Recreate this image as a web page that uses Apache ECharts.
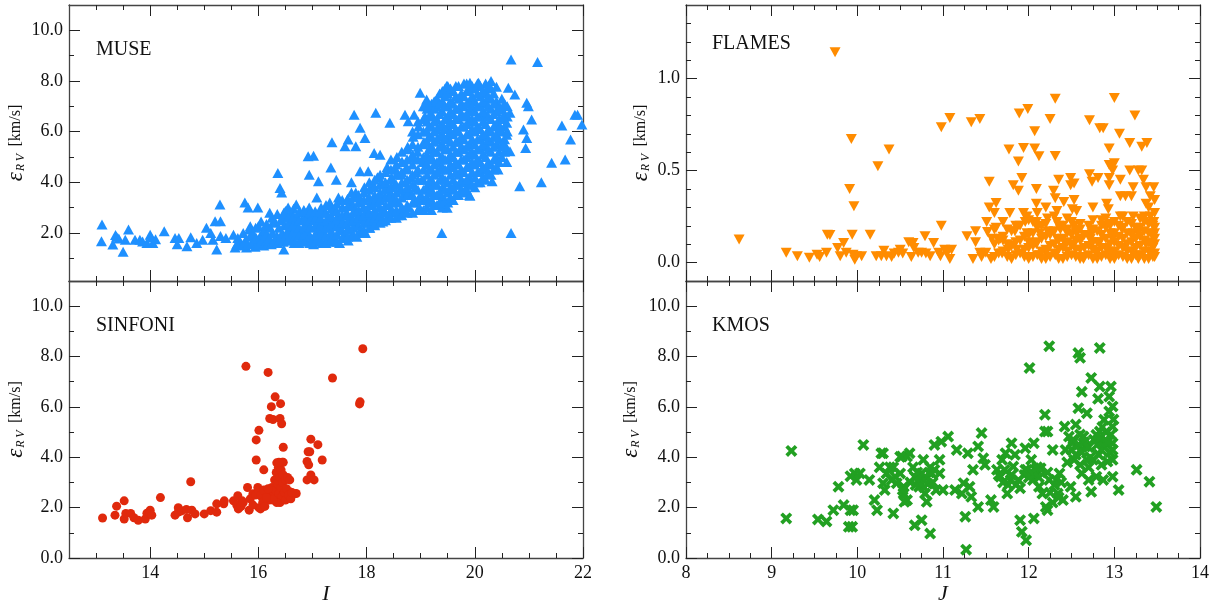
<!DOCTYPE html>
<html><head><meta charset="utf-8">
<script src="https://cdn.jsdelivr.net/npm/echarts@6/dist/echarts.min.js"></script>
<style>html,body{margin:0;padding:0;background:#fff}#c{width:1221px;height:603px}</style>
</head><body><div id="c"></div>
<script>
// ---------------- data ----------------
const panelNames = ['MUSE', 'FLAMES', 'SINFONI', 'KMOS'];
const xMajorI = [14, 16, 18, 20, 22];
const xMinorI = [13, 13.5, 14.5, 15, 15.5, 16.5, 17, 17.5, 18.5, 19, 19.5, 20.5, 21, 21.5];
const xMajorJ = [8, 9, 10, 11, 12, 13, 14];
const xMinorJ = [8.25, 8.5, 8.75, 9.25, 9.5, 9.75, 10.25, 10.5, 10.75, 11.25, 11.5, 11.75, 12.25, 12.5, 12.75, 13.25, 13.5, 13.75];
const yMajorMuse = [2, 4, 6, 8, 10];
const yMajorLow = [0, 2, 4, 6, 8, 10];
const yMinorKms = [1, 3, 5, 7, 9];
const yMajorFlames = [0, 0.5, 1.0];
const yMinorFlames = [0.1, 0.2, 0.3, 0.4, 0.6, 0.7, 0.8, 0.9, 1.1, 1.2, 1.3];

const museData = [
[13.11,2.33],[13.10,1.67],[13.31,1.54],[13.38,1.85],[13.42,1.78],[13.36,1.92],[13.50,1.26],[13.54,1.73],[13.60,2.13],[13.72,1.73],[13.81,1.73],[13.86,1.66],[13.94,1.60],[14.00,1.93],[14.05,1.60],[14.10,1.75],[14.02,1.82],[14.26,2.06],[14.46,1.80],[14.53,1.80],[14.50,1.55],[14.68,1.47],[14.75,1.83],[14.86,1.60],[14.97,1.73],[15.04,2.20],[15.12,2.00],[15.16,1.73],[15.20,2.46],[15.30,2.46],[15.29,3.12],[15.23,1.34],[15.30,1.88],[15.40,1.80],[15.54,1.93],[15.57,1.42],[15.66,1.67],[15.75,3.20],[15.81,3.00],[15.78,1.42],[15.85,2.26],[15.83,2.13],[15.91,1.73],[15.99,3.00],[16.00,2.26],[16.02,1.60],[16.08,2.00],[16.15,1.73],[16.21,2.80],[16.28,2.46],[16.36,4.37],[16.40,3.77],[16.43,3.60],[16.47,2.80],[16.47,1.34],[16.50,2.86],[16.60,2.80],[16.70,3.12],
[15.60,1.55],[15.62,1.80],[15.70,1.50],[15.72,2.00],[15.76,1.70],[15.80,1.55],[15.84,1.85],[15.88,1.60],[15.90,2.00],[15.94,1.45],[15.96,1.80],[16.00,1.55],[16.04,1.90],[16.06,1.70],[16.10,1.50],[16.12,2.10],[16.14,1.90],[16.18,1.60],[16.20,1.80],[16.22,2.20],[16.24,1.55],[16.26,2.00],[16.30,1.70],[16.32,2.40],[16.34,1.90],[16.36,1.60],[16.38,2.20],[16.40,1.75],[16.42,2.50],[16.44,2.00],[16.46,1.65],[16.48,2.30],[16.50,1.90],[16.52,2.60],[16.54,1.70],[16.56,2.15],[16.58,2.45],[16.60,1.85],[16.62,2.70],[16.64,2.05],[16.66,1.60],[16.68,2.35],[16.70,2.60],[16.72,1.90],[16.74,2.20],[16.76,2.85],[16.78,1.75],[16.80,2.50],[16.82,2.10],[16.84,2.90],[16.86,1.80],[16.88,2.40],[16.90,2.70],[16.92,2.00],[16.94,3.00],[16.96,2.25],[16.98,1.70],[17.00,2.55],[16.35,2.75],[16.45,2.65],[16.25,2.60],[16.15,2.35],[16.05,2.45],[15.95,2.20],[16.55,3.00],[16.65,2.95],
[17.02,1.55],[17.05,1.90],[17.06,2.30],[17.08,2.70],[17.10,1.70],[17.12,2.10],[17.14,2.50],[17.16,3.00],[17.18,1.60],[17.20,1.95],[17.22,2.35],[17.24,2.80],[17.26,1.75],[17.28,2.20],[17.30,2.60],[17.32,3.20],[17.34,1.65],[17.36,2.00],[17.38,2.45],[17.40,2.90],[17.42,1.80],[17.44,2.30],[17.46,2.65],[17.48,3.40],[17.50,1.60],[17.52,2.10],[17.54,2.50],[17.56,3.00],[17.58,1.90],[17.60,2.35],[17.62,2.75],[17.64,3.30],[17.66,1.70],[17.68,2.15],[17.70,2.60],[17.72,3.10],[17.74,2.00],[17.76,2.45],[17.78,2.90],[17.80,3.60],[17.82,1.85],[17.84,2.30],[17.86,2.75],[17.88,3.30],[17.90,2.10],[17.92,2.55],[17.94,3.00],[17.96,3.80],[17.98,2.00],[18.00,2.40],[18.02,2.85],[18.04,3.40],[18.06,2.20],[18.08,2.70],[18.10,3.15],[18.12,3.90],[18.14,2.35],[18.16,2.80],[18.18,3.30],[18.20,4.20],[18.22,2.50],[18.24,3.00],[18.26,3.50],[18.28,4.00],[18.30,2.45],[18.32,2.90],[18.34,3.40],[18.36,3.80],[18.38,4.60],[18.40,2.60],[18.42,3.10],[18.44,3.60],[18.46,4.20],[18.48,2.80],[18.50,3.30],[18.52,3.90],[18.54,4.50],[18.56,5.00],[18.58,2.70],[18.60,3.20],[18.62,3.70],[18.64,4.30],[18.66,4.80],[18.68,2.90],[18.70,3.50],[18.72,4.00],[18.74,4.60],[18.76,5.40],[18.78,3.00],[18.80,3.60],[18.82,4.20],[18.84,5.00],[18.86,5.80],[18.88,3.20],[18.90,3.80],[18.92,4.40],[18.94,5.20],[18.96,6.20],[18.98,3.00],[19.00,3.50],[19.02,4.10],[19.04,4.80],[19.06,5.60],[19.08,6.60],[19.10,7.00],
[16.55,1.70],[16.55,2.00],[16.55,2.30],[16.55,2.60],[16.65,1.75],[16.65,2.05],[16.65,2.35],[16.65,2.65],[16.75,1.60],[16.75,1.90],[16.75,2.20],[16.75,2.50],[16.75,2.80],[16.85,1.65],[16.85,1.95],[16.85,2.25],[16.85,2.55],[16.85,2.85],[16.95,1.60],[16.95,1.90],[16.95,2.20],[16.95,2.50],[16.95,2.80],
[17.05,1.65],[17.05,1.95],[17.05,2.25],[17.05,2.55],[17.05,2.85],[17.15,1.70],[17.15,2.00],[17.15,2.30],[17.15,2.60],[17.15,2.90],[17.25,1.60],[17.25,1.90],[17.25,2.20],[17.25,2.50],[17.25,2.80],[17.25,3.10],[17.35,1.75],[17.35,2.05],[17.35,2.35],[17.35,2.65],[17.35,2.95],[17.45,1.65],[17.45,1.95],[17.45,2.25],[17.45,2.55],[17.45,2.85],[17.45,3.15],
[17.55,1.80],[17.55,2.10],[17.55,2.40],[17.55,2.70],[17.55,3.00],[17.55,3.30],[17.65,1.85],[17.65,2.15],[17.65,2.45],[17.65,2.75],[17.65,3.05],[17.65,3.35],[17.75,1.90],[17.75,2.20],[17.75,2.50],[17.75,2.80],[17.75,3.10],[17.75,3.40],[17.85,2.00],[17.85,2.30],[17.85,2.60],[17.85,2.90],[17.85,3.20],[17.85,3.50],[17.95,2.10],[17.95,2.40],[17.95,2.70],[17.95,3.00],[17.95,3.30],[17.95,3.60],
[18.05,2.20],[18.05,2.50],[18.05,2.80],[18.05,3.10],[18.05,3.40],[18.05,3.70],[18.05,4.00],[18.15,2.30],[18.15,2.60],[18.15,2.90],[18.15,3.20],[18.15,3.50],[18.15,3.80],[18.15,4.10],[18.25,2.40],[18.25,2.70],[18.25,3.00],[18.25,3.30],[18.25,3.60],[18.25,3.90],[18.25,4.30],[18.35,2.50],[18.35,2.80],[18.35,3.10],[18.35,3.40],[18.35,3.70],[18.35,4.00],[18.35,4.40],
[18.45,2.60],[18.45,2.90],[18.45,3.20],[18.45,3.50],[18.45,3.80],[18.45,4.10],[18.45,4.50],[18.45,4.90],[18.55,2.60],[18.55,2.90],[18.55,3.30],[18.55,3.60],[18.55,3.90],[18.55,4.30],[18.55,4.70],[18.65,2.70],[18.65,3.00],[18.65,3.40],[18.65,3.70],[18.65,4.00],[18.65,4.40],[18.65,4.80],[18.65,5.20],[18.75,2.80],[18.75,3.10],[18.75,3.50],[18.75,3.80],[18.75,4.10],[18.75,4.50],[18.75,4.90],[18.75,5.30],
[18.85,2.80],[18.85,3.20],[18.85,3.50],[18.85,3.90],[18.85,4.30],[18.85,4.70],[18.85,5.10],[18.85,5.50],[18.85,6.00],[18.95,2.90],[18.95,3.30],[18.95,3.70],[18.95,4.10],[18.95,4.50],[18.95,4.90],[18.95,5.40],[18.95,5.90],[18.95,6.40],[19.05,2.90],[19.05,3.30],[19.05,3.70],[19.05,4.10],[19.05,4.50],[19.05,5.00],[19.05,5.50],[19.05,6.00],[19.05,6.50],[19.05,7.00],
[19.12,3.0],[19.12,3.4],[19.12,3.8],[19.12,4.3],[19.12,4.7],[19.12,5.1],[19.12,5.6],[19.12,6.0],[19.12,6.4],[19.12,6.9],
[19.2,2.9],[19.2,3.3],[19.2,3.7],[19.2,4.1],[19.2,4.5],[19.2,5.0],[19.2,5.4],[19.2,5.8],[19.2,6.2],[19.2,6.7],[19.2,7.1],
[19.3,3.1],[19.3,3.5],[19.3,3.9],[19.3,4.4],[19.3,4.8],[19.3,5.2],[19.3,5.7],[19.3,6.1],[19.3,6.5],[19.3,7.0],[19.3,7.3],
[19.4,3.0],[19.4,3.4],[19.4,3.8],[19.4,4.2],[19.4,4.6],[19.4,5.0],[19.4,5.5],[19.4,5.9],[19.4,6.3],[19.4,6.8],[19.4,7.2],[19.4,7.6],
[19.5,3.2],[19.5,3.6],[19.5,4.0],[19.5,4.5],[19.5,4.9],[19.5,5.3],[19.5,5.8],[19.5,6.2],[19.5,6.6],[19.5,7.0],[19.5,7.5],[19.5,7.8],
[19.6,3.3],[19.6,3.7],[19.6,4.1],[19.6,4.6],[19.6,5.0],[19.6,5.4],[19.6,5.9],[19.6,6.3],[19.6,6.7],[19.6,7.1],[19.6,7.6],
[19.7,3.5],[19.7,3.9],[19.7,4.3],[19.7,4.7],[19.7,5.2],[19.7,5.6],[19.7,6.0],[19.7,6.5],[19.7,6.9],[19.7,7.3],[19.7,7.8],
[19.8,3.6],[19.8,4.0],[19.8,4.4],[19.8,4.9],[19.8,5.3],[19.8,5.7],[19.8,6.2],[19.8,6.6],[19.8,7.0],[19.8,7.4],[19.8,7.9],
[19.9,3.5],[19.9,3.9],[19.9,4.2],[19.9,4.6],[19.9,5.1],[19.9,5.5],[19.9,5.9],[19.9,6.4],[19.9,6.8],[19.9,7.2],[19.9,7.6],
[20.0,3.8],[20.0,4.2],[20.0,4.7],[20.0,5.1],[20.0,5.5],[20.0,6.0],[20.0,6.4],[20.0,6.8],[20.0,7.2],[20.0,7.7],
[20.1,4.0],[20.1,4.4],[20.1,4.8],[20.1,5.3],[20.1,5.7],[20.1,6.1],[20.1,6.6],[20.1,7.0],[20.1,7.4],[20.1,7.8],
[20.2,4.1],[20.2,4.5],[20.2,5.0],[20.2,5.4],[20.2,5.8],[20.2,6.3],[20.2,6.7],[20.2,7.1],[20.2,7.5],[20.2,7.9],
[20.3,4.3],[20.3,4.7],[20.3,5.2],[20.3,5.6],[20.3,6.0],[20.3,6.5],[20.3,6.9],[20.3,7.3],[20.3,7.7],
[20.4,4.6],[20.4,5.0],[20.4,5.5],[20.4,5.9],[20.4,6.3],[20.4,6.8],[20.4,7.2],
[20.5,5.0],[20.5,5.5],[20.5,6.0],[20.5,6.5],[20.5,6.9],[20.5,7.3],
[20.6,5.3],[20.6,6.0],[20.6,6.6],[20.6,7.0],
[19.15,3.2],[19.15,3.6],[19.15,4.0],[19.15,4.5],[19.15,4.9],[19.15,5.3],[19.15,5.8],[19.15,6.2],[19.15,6.6],[19.15,7.0],
[19.25,3.1],[19.25,3.5],[19.25,3.9],[19.25,4.3],[19.25,4.7],[19.25,5.2],[19.25,5.6],[19.25,6.0],[19.25,6.4],[19.25,6.9],[19.25,7.2],
[19.35,3.2],[19.35,3.6],[19.35,4.1],[19.35,4.5],[19.35,4.9],[19.35,5.4],[19.35,5.8],[19.35,6.2],[19.35,6.7],[19.35,7.1],[19.35,7.5],
[19.45,3.3],[19.45,3.7],[19.45,4.1],[19.45,4.5],[19.45,4.9],[19.45,5.3],[19.45,5.7],[19.45,6.1],[19.45,6.5],[19.45,7.0],[19.45,7.4],[19.45,7.7],
[19.55,3.4],[19.55,3.8],[19.55,4.3],[19.55,4.7],[19.55,5.1],[19.55,5.6],[19.55,6.0],[19.55,6.4],[19.55,6.8],[19.55,7.2],[19.55,7.7],
[19.65,3.5],[19.65,3.9],[19.65,4.4],[19.65,4.8],[19.65,5.2],[19.65,5.6],[19.65,6.1],[19.65,6.5],[19.65,6.9],[19.65,7.4],[19.65,7.8],
[19.75,3.7],[19.75,4.1],[19.75,4.5],[19.75,4.9],[19.75,5.4],[19.75,5.8],[19.75,6.2],[19.75,6.7],[19.75,7.1],[19.75,7.5],
[19.85,3.7],[19.85,4.1],[19.85,4.6],[19.85,5.0],[19.85,5.4],[19.85,5.9],[19.85,6.3],[19.85,6.7],[19.85,7.1],[19.85,7.6],[19.85,7.9],
[19.95,3.9],[19.95,4.4],[19.95,4.8],[19.95,5.2],[19.95,5.7],[19.95,6.1],[19.95,6.5],[19.95,7.0],[19.95,7.4],[19.95,7.8],
[20.05,4.0],[20.05,4.4],[20.05,4.9],[20.05,5.3],[20.05,5.7],[20.05,6.2],[20.05,6.6],[20.05,7.0],[20.05,7.5],[20.05,7.9],
[20.15,4.2],[20.15,4.6],[20.15,5.1],[20.15,5.5],[20.15,5.9],[20.15,6.4],[20.15,6.8],[20.15,7.2],[20.15,7.6],
[20.25,4.4],[20.25,4.8],[20.25,5.3],[20.25,5.7],[20.25,6.1],[20.25,6.6],[20.25,7.0],[20.25,7.4],[20.25,7.8],
[20.35,4.5],[20.35,4.9],[20.35,5.4],[20.35,5.8],[20.35,6.2],[20.35,6.7],[20.35,7.1],[20.35,7.5],
[20.45,4.8],[20.45,5.2],[20.45,5.7],[20.45,6.1],[20.45,6.5],[20.45,7.0],
[20.55,5.2],[20.55,5.7],[20.55,6.2],[20.55,6.7],[20.55,7.1],
[16.92,5.03],[17.02,5.05],[16.94,4.30],[17.11,4.04],[17.08,3.40],[17.36,5.58],[17.34,4.58],[17.44,4.10],[17.60,5.42],[17.66,5.69],[17.80,5.42],[17.77,6.67],[17.88,6.15],[17.97,5.75],[18.17,6.74],[18.14,5.16],[18.25,5.09],[17.88,4.43],[18.03,4.43],[17.72,4.00],[17.72,3.60],[18.43,6.35],[18.71,6.67],[18.88,6.67],[18.77,6.41],[18.99,7.53],[19.11,7.27],[19.48,7.80],[19.91,7.93],[20.07,7.93],[20.30,8.00],[20.40,7.77],[20.62,7.73],[20.67,8.85],[20.74,7.47],[21.16,8.75],[20.96,7.14],[20.99,7.00],[21.05,6.48],[20.90,6.08],[20.96,5.75],[20.94,5.35],[20.59,5.88],[20.57,5.42],[20.59,4.80],[20.43,4.50],[20.32,4.04],[20.83,3.84],[21.23,4.00],[21.42,4.77],[21.67,4.90],[21.61,6.24],[21.77,5.69],[21.85,6.67],[21.90,6.67],[21.98,6.28],[19.39,2.00],[20.67,2.00],[19.49,2.99],[19.91,3.47],[19.82,3.71],[19.60,3.78],[20.44,6.87],[20.53,6.60],[20.65,6.74],[20.47,6.20],[20.59,6.35],[20.40,5.80],[20.53,5.42],[20.65,5.22]
];

const flamesData = [
[8.62,0.125],[9.17,0.053],[9.30,0.034],[9.44,0.026],[9.53,0.043],[9.56,0.03],[9.64,0.053],[9.65,0.152],[9.68,0.15],[9.74,1.143],[9.77,0.08],[9.80,0.034],[9.84,0.107],[9.87,0.053],[9.91,0.40],[9.93,0.672],[9.94,0.152],[9.96,0.306],[9.95,0.043],[9.97,0.016],[9.99,0.034],[10.05,0.034],[10.15,0.152],[10.22,0.034],[10.24,0.523],[10.28,0.034],[10.31,0.065],[10.34,0.034],[10.37,0.614],[10.40,0.03],[10.43,0.05],[10.48,0.053],[10.50,0.07],[10.60,0.11],
[10.53,0.05],[10.63,0.03],[10.65,0.107],[10.66,0.08],[10.71,0.053],[10.75,0.053],[10.79,0.143],[10.80,0.05],[10.85,0.034],[10.89,0.107],[10.95,0.053],[10.97,0.034],[10.98,0.735],[10.98,0.20],[11.02,0.07],[11.05,0.053],[11.08,0.786],[11.08,0.02],[11.10,0.07],[11.28,0.143],[11.33,0.763],[11.35,0.02],[11.38,0.17],[11.38,0.11],[11.43,0.78],[11.43,0.053],[11.45,0.03],[11.50,0.053],[11.54,0.44],[11.54,0.30],[11.51,0.22],[11.52,0.166],[11.57,0.13],[11.60,0.27],[11.62,0.324],[11.62,0.19],[11.56,0.02],[11.67,0.13],[11.69,0.05],[11.70,0.12],[11.76,0.07],[11.78,0.27],[11.77,0.614],[11.84,0.17],[11.86,0.07],[11.88,0.55],[11.89,0.81],[11.82,0.42],[11.92,0.46],[11.88,0.39],[11.94,0.623],[11.99,0.835],[11.94,0.27],[11.98,0.25],[11.96,0.22],[11.98,0.16],[12.00,0.11],[12.07,0.714],[12.07,0.62],[12.09,0.40],[12.12,0.578],[12.09,0.32],[12.10,0.27],[12.09,0.22],[12.13,0.16],[12.09,0.10],[12.13,0.04],[12.20,0.30],[12.22,0.24],[12.22,0.17],[12.20,0.05],[12.25,0.78],[12.31,0.89],[12.31,0.58],[12.29,0.39],[12.31,0.35],[12.35,0.45],[12.33,0.28],[12.33,0.22],[12.37,0.18],[12.33,0.13],[12.31,0.04],[12.41,0.33],[12.45,0.24],[12.45,0.16],[12.43,0.10],[12.49,0.46],[12.49,0.42],[12.53,0.43],[12.53,0.34],[12.51,0.29],[12.56,0.28],[12.53,0.20],[12.56,0.16],[12.53,0.10],[12.60,0.21],[12.62,0.13],[12.64,0.02],[12.71,0.773],[12.71,0.48],[12.74,0.44],[12.81,0.46],[12.75,0.30],[12.74,0.16],[12.72,0.13],[12.79,0.05],[12.83,0.73],[12.87,0.73],[12.85,0.23],[12.83,0.11],[12.91,0.32],[12.93,0.29],[12.94,0.62],[12.94,0.46],[12.94,0.42],[12.94,0.53],[12.98,0.53],[13.00,0.54],[12.98,0.50],[13.00,0.895],[12.94,0.21],[12.98,0.13],[12.98,0.04],[13.06,0.70],[13.07,0.45],[13.07,0.36],[13.07,0.25],[13.09,0.18],[13.13,0.36],[13.18,0.65],[13.18,0.50],[13.20,0.36],[13.22,0.41],[13.22,0.25],[13.22,0.16],[13.24,0.80],[13.28,0.50],[13.32,0.50],[13.32,0.63],[13.34,0.45],[13.37,0.41],[13.38,0.65],[13.37,0.32],[13.35,0.25],[13.40,0.30],[13.42,0.36],[13.46,0.41],[13.47,0.34],[13.46,0.22],[13.47,0.16],[13.47,0.10],[13.47,0.03],[13.42,0.25],[13.28,0.16],[13.37,0.10],[13.28,0.02],
[11.60,0.03],[11.60,0.10],[11.60,0.18],[11.70,0.06],[11.70,0.14],[11.70,0.22],[11.80,0.02],[11.80,0.09],[11.80,0.17],[11.90,0.05],[11.90,0.12],[11.90,0.20],[12.00,0.02],[12.00,0.08],[12.00,0.15],[12.00,0.23],[12.10,0.04],[12.10,0.11],[12.10,0.19],[12.20,0.02],[12.20,0.07],[12.20,0.14],[12.20,0.21],[12.30,0.05],[12.30,0.10],[12.30,0.17],[12.30,0.25],[12.40,0.02],[12.40,0.08],[12.40,0.13],[12.40,0.20],[12.50,0.04],[12.50,0.09],[12.50,0.15],[12.50,0.22],[12.60,0.02],[12.60,0.07],[12.60,0.12],[12.60,0.18],[12.70,0.04],[12.70,0.09],[12.70,0.14],[12.70,0.20],[12.80,0.02],[12.80,0.06],[12.80,0.11],[12.80,0.17],[12.90,0.04],[12.90,0.08],[12.90,0.13],[12.90,0.19],[12.90,0.24],[13.00,0.02],[13.00,0.06],[13.00,0.11],[13.00,0.16],[13.00,0.22],[13.10,0.03],[13.10,0.08],[13.10,0.13],[13.10,0.19],[13.10,0.25],[13.20,0.02],[13.20,0.06],[13.20,0.11],[13.20,0.15],[13.20,0.21],[13.30,0.04],[13.30,0.09],[13.30,0.14],[13.30,0.19],[13.30,0.24],[13.40,0.02],[13.40,0.06],[13.40,0.11],[13.40,0.16],[13.40,0.21],[13.47,0.05],[13.47,0.13],[13.47,0.19],[13.47,0.27],
[11.65,0.05],[11.65,0.12],[11.75,0.03],[11.75,0.10],[11.75,0.18],[11.85,0.04],[11.85,0.11],[11.85,0.20],[11.95,0.03],[11.95,0.07],[11.95,0.14],[12.05,0.03],[12.05,0.09],[12.05,0.16],[12.05,0.22],[12.15,0.02],[12.15,0.06],[12.15,0.13],[12.15,0.20],[12.25,0.03],[12.25,0.09],[12.25,0.15],[12.35,0.02],[12.35,0.07],[12.35,0.12],[12.35,0.20],[12.45,0.03],[12.45,0.06],[12.45,0.11],[12.45,0.18],[12.55,0.03],[12.55,0.07],[12.55,0.12],[12.55,0.17],[12.65,0.03],[12.65,0.08],[12.65,0.15],[12.75,0.02],[12.75,0.07],[12.75,0.11],[12.75,0.18],[12.75,0.23],[12.85,0.03],[12.85,0.08],[12.85,0.15],[12.85,0.20],[12.95,0.02],[12.95,0.06],[12.95,0.10],[12.95,0.16],[12.95,0.20],[13.05,0.04],[13.05,0.09],[13.05,0.14],[13.05,0.20],[13.15,0.02],[13.15,0.06],[13.15,0.10],[13.15,0.16],[13.15,0.22],[13.25,0.04],[13.25,0.08],[13.25,0.13],[13.25,0.19],[13.35,0.02],[13.35,0.06],[13.35,0.12],[13.35,0.17],[13.35,0.22],[13.45,0.03],[13.45,0.08],[13.45,0.14],[13.45,0.20]
];

const sinfoniData = [
[13.12,1.59],[13.35,1.70],[13.38,2.06],[13.52,2.27],[13.52,1.55],[13.55,1.77],[13.64,1.77],[13.70,1.60],[13.78,1.50],[13.91,1.55],[13.94,1.78],[14.00,1.90],[14.00,1.77],[14.03,1.70],[14.19,2.40],[14.46,1.70],[14.52,2.00],[14.52,1.82],[14.58,1.87],[14.67,1.93],[14.69,1.60],[14.75,3.03],[14.77,1.90],[14.83,1.75],[15.00,1.75],[15.12,1.88],[15.23,2.15],[15.23,1.82],[15.36,2.15],[15.37,2.27],[15.54,2.27],[15.62,2.47],[15.64,2.00],[15.70,2.27],[15.77,7.61],[15.80,2.80],[15.83,1.90],[15.90,2.55],[15.96,4.69],[15.96,3.89],[15.99,2.80],[16.01,5.07],[16.01,2.00],[16.07,2.40],[16.10,3.50],[16.13,2.55],[16.18,7.37],[16.21,5.54],[16.24,6.01],[16.27,5.50],[16.31,6.40],[16.34,3.78],[16.37,3.11],[16.40,5.54],[16.41,6.13],[16.43,5.33],[16.46,4.40],[16.46,3.80],[16.49,3.11],[16.66,2.55],[16.58,2.63],[16.70,2.56],[16.90,3.10],[16.90,3.83],[16.92,4.22],[16.95,4.22],[16.93,3.70],[16.97,4.72],[16.97,3.30],[17.03,3.10],[17.10,4.50],[17.18,3.89],[17.37,7.15],[17.87,6.12],[17.88,6.20],[17.93,8.31],
[16.20,2.30],[16.22,2.60],[16.25,2.80],[16.28,2.50],[16.30,3.10],[16.30,2.40],[16.32,2.70],[16.33,3.40],[16.35,2.30],[16.35,2.95],[16.37,3.60],[16.38,2.55],[16.40,3.20],[16.40,2.20],[16.42,2.80],[16.42,3.50],[16.44,2.45],[16.45,3.00],[16.46,3.30],[16.48,2.60],[16.50,2.30],[16.50,3.10],[16.52,2.75],[16.54,3.20],[16.56,2.50],[16.58,3.10],[16.60,2.35],[16.62,2.60],[16.34,2.20],[16.27,2.30],[16.44,3.80],[16.38,3.80],
[15.60,2.10],[15.63,1.95],[15.68,2.05],[15.72,2.20],[15.85,2.35],[15.90,2.10],[15.95,2.50],[16.00,2.70],[16.05,2.50],[16.08,2.20],[16.10,2.70],[16.15,2.40],[16.18,2.75],[16.04,1.95],[16.12,2.05]
];

const kmosData = [
[9.17,1.57],[9.23,4.25],[9.54,1.53],[9.64,1.45],[9.72,1.90],[9.78,2.83],[9.84,2.10],[9.90,1.24],[9.94,1.24],[9.92,1.90],[9.95,1.90],[9.92,3.25],[9.97,3.36],[9.99,3.10],[10.03,3.36],[10.07,4.49],[10.14,3.10],[10.20,2.30],[10.23,1.90],[10.26,3.60],[10.28,4.16],[10.30,4.16],[10.30,2.97],[10.32,2.70],[10.34,3.36],[10.38,3.60],[10.40,3.10],[10.42,1.77],[10.42,3.60],[10.44,3.23],[10.46,2.97],[10.52,4.03],[10.54,2.83],[10.54,2.56],[10.58,2.30],[10.58,4.03],
[10.50,4.02],[10.50,3.36],[10.53,2.70],[10.55,2.23],[10.61,4.16],[10.65,3.60],[10.67,3.23],[10.67,1.30],[10.75,1.50],[10.71,3.05],[10.72,2.83],[10.75,3.36],[10.77,3.90],[10.77,3.10],[10.79,2.56],[10.81,2.23],[10.85,3.60],[10.85,0.97],[10.87,3.36],[10.90,4.49],[10.92,2.70],[10.96,3.90],[10.96,3.36],[10.98,4.62],[11.00,2.70],[11.06,4.82],[11.14,2.70],[11.16,4.29],[11.22,2.56],[11.24,2.97],[11.26,1.64],[11.27,0.33],[11.29,4.16],[11.31,2.83],[11.33,2.43],[11.35,3.50],[11.41,2.03],[11.41,4.43],[11.45,4.96],[11.47,3.96],[11.49,3.70],[11.56,2.30],[11.59,2.03],[11.63,3.50],[11.67,3.23],[11.69,3.90],[11.73,4.16],[11.75,2.56],[11.79,3.10],[11.80,4.56],[11.82,3.63],[11.84,4.10],[11.88,3.10],[11.90,2.77],[11.90,1.50],[11.92,1.04],[11.97,0.70],[11.96,4.36],[11.96,3.50],[12.01,7.55],[12.03,3.90],[12.01,3.36],[12.05,3.10],[12.06,1.57],[12.06,4.56],[12.08,3.50],[12.12,2.83],[12.14,3.56],[12.16,2.56],[12.19,5.69],[12.19,5.02],[12.20,2.03],[12.22,1.90],[12.22,5.02],[12.24,8.41],[12.24,3.10],[12.28,4.29],[12.32,3.10],[12.34,2.56],[12.36,3.36],[12.40,2.30],[12.42,5.22],[12.43,4.29],[12.47,4.82],[12.49,2.83],[12.51,4.56],[12.53,3.90],[12.55,2.43],[12.58,5.95],[12.58,8.14],[12.60,7.95],[12.62,6.60],[12.62,3.36],[12.64,4.82],[12.66,4.43],[12.68,5.75],[12.68,3.90],[12.70,3.10],[12.73,7.15],[12.73,2.63],[12.75,3.90],[12.79,4.89],[12.79,3.23],[12.81,6.32],[12.83,8.34],[12.83,6.81],[12.83,5.02],[12.85,4.29],[12.87,3.10],[12.88,5.49],[12.90,4.69],[12.92,3.83],[12.94,5.82],[12.94,6.41],[12.96,6.81],[12.98,6.02],[12.98,5.22],[12.98,4.56],[12.98,4.29],[12.98,3.23],[13.05,2.70],[13.26,3.50],[13.41,3.03],[13.49,2.03],
[10.62,3.00],[10.68,2.90],[10.70,3.40],[10.73,3.00],[10.78,2.80],[10.80,3.20],[10.82,2.95],[10.84,3.40],[10.88,3.00],[10.90,3.50],
[11.95,3.30],[11.98,3.50],[12.00,3.20],[12.03,3.40],[12.06,3.30],[12.10,3.60],[12.12,3.20],
[12.50,4.30],[12.52,4.70],[12.55,4.10],[12.58,4.50],[12.60,4.90],[12.62,4.20],[12.65,4.60],[12.70,4.40],[12.72,4.00],[12.76,4.70],[12.80,4.50],[12.82,4.10],[12.84,4.80],[12.86,5.20],[12.88,4.40],[12.90,5.00],[12.92,4.60],[12.95,4.20],[12.96,4.90],[12.98,3.90],[12.99,5.50],[12.85,3.70],[12.70,3.60],[12.60,3.70],[12.45,3.80],[12.55,5.30],
[11.65,3.30],[11.70,3.00],[11.72,3.50],[11.76,2.90],[11.80,3.30],[11.85,2.90],
[12.25,2.60],[12.28,2.20],[12.30,2.90],[12.35,2.40],[12.22,3.40],[12.38,3.00]
];

// ---------------- layout / style ----------------
const FONT = 'Liberation Serif';
const TXT = '#111';
const AXC = '#444';
const TKC = '#222';
const X_PATH = 'path://M0,2.2L2.2,0L5,2.8L7.8,0L10,2.2L7.2,5L10,7.8L7.8,10L5,7.2L2.2,10L0,7.8L2.8,5Z';

const panels = [
  { name: panelNames[0], data: museData, color: '#1e90ff', symbol: 'triangle', size: [11, 10], rotate: 0,
    rect: [69, 5, 514, 276], xr: [12.5, 22], xMaj: xMajorI, xMin: xMinorI, yr: [0.1, 11], yMaj: yMajorMuse, yMin: yMinorKms,
    xLabels: false, xName: '', yGap: 42, lab: [96, 50] },
  { name: panelNames[1], data: flamesData, color: '#ff8c00', symbol: 'triangle', size: [11, 10], rotate: 180,
    rect: [686, 5, 514, 276], xr: [8, 14], xMaj: xMajorJ, xMin: xMinorJ, yr: [-0.1, 1.4], yMaj: yMajorFlames, yMin: yMinorFlames,
    xLabels: false, xName: '', yGap: 34, lab: [712, 44] },
  { name: panelNames[2], data: sinfoniData, color: '#e0290c', symbol: 'circle', size: 9, rotate: 0,
    rect: [69, 281, 514, 277], xr: [12.5, 22], xMaj: xMajorI, xMin: xMinorI, yr: [0, 11], yMaj: yMajorLow, yMin: yMinorKms,
    xLabels: true, xName: 'I', yGap: 42, lab: [96, 326] },
  { name: panelNames[3], data: kmosData, color: '#22a022', symbol: X_PATH, size: 12, rotate: 0,
    rect: [686, 281, 514, 277], xr: [8, 14], xMaj: xMajorJ, xMin: xMinorJ, yr: [0, 11], yMaj: yMajorLow, yMin: yMinorKms,
    xLabels: true, xName: 'J', yGap: 44, lab: [712, 326] }
];

const grids = [], xAxes = [], yAxes = [], series = [], graphics = [];

function axis(gi, pos, r, ticks, len, showLine, labels, fmt) {
  return {
    type: 'value', gridIndex: gi, position: pos, min: r[0], max: r[1],
    axisLine: { show: showLine, onZero: false, lineStyle: { color: AXC, width: 1.3 } },
    axisTick: { show: true, inside: true, length: len, customValues: ticks, lineStyle: { color: TKC, width: 1 } },
    axisLabel: { show: !!labels, customValues: labels || ticks, formatter: fmt, margin: 6, color: TXT,
                 fontFamily: FONT, fontSize: 18, hideOverlap: false },
    splitLine: { show: false }, minorTick: { show: false }, splitArea: { show: false }
  };
}

const yName = '{e|\u03b5}{s|R}{s|V}{t| [km/s]}';
const yNameStyle = {
  color: TXT, fontFamily: FONT, fontSize: 16,
  rich: {
    e: { fontFamily: FONT, fontStyle: 'italic', fontSize: 23, color: TXT },
    s: { fontFamily: FONT, fontStyle: 'italic', fontSize: 12, color: TXT, verticalAlign: 'bottom', padding: [0, 1.5, 0, 1] },
    t: { fontFamily: FONT, fontSize: 16, color: TXT, padding: [0, 0, 0, 2] }
  }
};

panels.forEach((p, i) => {
  const [l, t, w, h] = p.rect;
  const gMain = grids.length;
  grids.push({ left: l, top: t, width: w, height: h, containLabel: false, outerBoundsMode: 'none' });
  const gMin = grids.length;
  grids.push({ left: l, top: t, width: w, height: h, containLabel: false, outerBoundsMode: 'none' });

  const xFmt = v => String(v);
  const yFmt = v => v.toFixed(1);

  const xb = axis(gMain, 'bottom', p.xr, p.xMaj, 11, true, p.xLabels ? p.xMaj : null, xFmt);
  if (p.xName) {
    xb.name = p.xName; xb.nameLocation = 'middle'; xb.nameGap = 22;
    xb.nameTextStyle = { fontFamily: FONT, fontStyle: 'italic', fontSize: 22, color: TXT };
  }
  const xMainIdx = xAxes.length;
  xAxes.push(xb);
  xAxes.push(axis(gMain, 'top', p.xr, p.xMaj, 11, true, null, xFmt));
  xAxes.push(axis(gMin, 'bottom', p.xr, p.xMin, 5, false, null, xFmt));
  xAxes.push(axis(gMin, 'top', p.xr, p.xMin, 5, false, null, xFmt));

  const yl = axis(gMain, 'left', p.yr, p.yMaj, 11, true, p.yMaj, yFmt);
  yl.name = yName; yl.nameLocation = 'middle'; yl.nameGap = p.yGap; yl.nameTextStyle = yNameStyle;
  const yMainIdx = yAxes.length;
  yAxes.push(yl);
  yAxes.push(axis(gMain, 'right', p.yr, p.yMaj, 11, true, null, yFmt));
  yAxes.push(axis(gMin, 'left', p.yr, p.yMin, 5, false, null, yFmt));
  yAxes.push(axis(gMin, 'right', p.yr, p.yMin, 5, false, null, yFmt));

  series.push({
    type: 'scatter', name: p.name, xAxisIndex: xMainIdx, yAxisIndex: yMainIdx,
    data: p.data, symbol: p.symbol, symbolSize: p.size, symbolRotate: p.rotate,
    itemStyle: { color: p.color, opacity: 1 }, silent: true, z: 2, large: false
  });

  graphics.push({
    type: 'text', x: p.lab[0], y: p.lab[1], z: 10,
    style: { text: p.name, fontFamily: FONT, fontSize: 20, fill: TXT, verticalAlign: 'middle', align: 'left' }
  });
});

const chart = echarts.init(document.getElementById('c'), null, { renderer: 'canvas' });
chart.setOption({
  animation: false,
  backgroundColor: '#fff',
  grid: grids, xAxis: xAxes, yAxis: yAxes, series: series,
  graphic: graphics
});
</script></body></html>
